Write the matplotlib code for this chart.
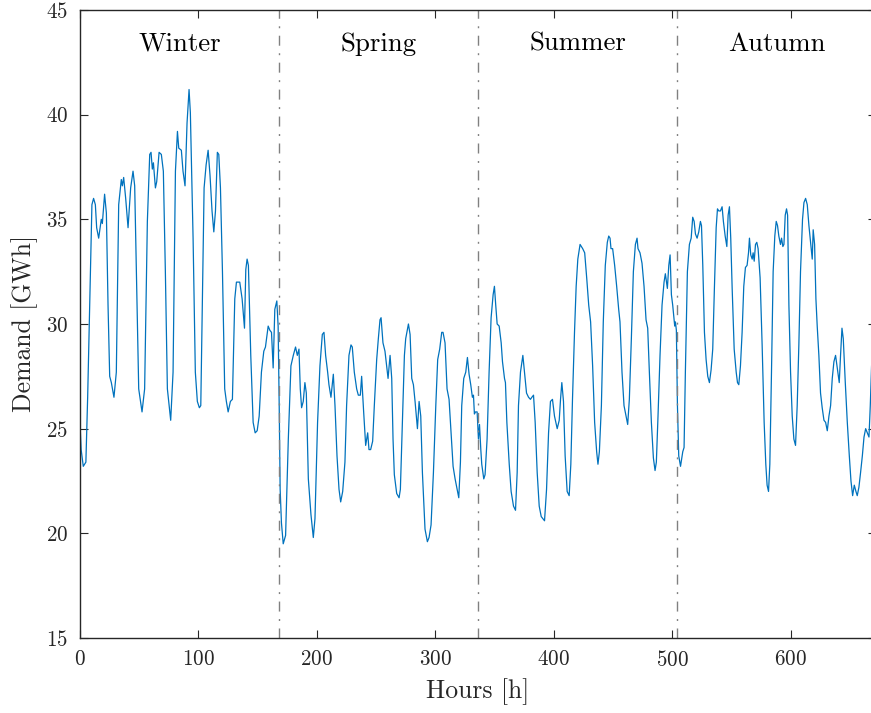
import matplotlib
matplotlib.use("Agg")
import matplotlib.pyplot as plt

# hourly demand (hours, GWh)
hours = [0, 1, 2.8, 5, 6.5, 8.2, 10.1, 11.5, 13, 14.1, 15.8, 18, 18.9, 20.8, 22.3, 23.7, 25.1, 26.5, 28.7, 30.7,
         32.7, 34.9, 35.8, 36.9, 38.6, 40.6, 42.8, 44.8, 46.2, 47.6, 49.6, 52.4, 54.6, 56.9, 58.9, 60, 61.1, 62,
         63.7, 64.8, 66.8, 68.7, 70.4, 72.1, 73.8, 76.6, 78.6, 80.6, 82.3, 83.4, 85.6, 87, 88.7, 90.4, 92.1, 93.2,
         95.5, 97.4, 99.1, 100.8, 102, 103.1, 104.8, 106.5, 108.2, 109.8, 111.5, 113, 114.4, 116, 117.2, 118.6,
         120.3, 122.2, 123.6, 125.1, 127, 128.7, 130.7, 132.1, 134.9, 136.9, 138.9, 140, 141.1, 142.2, 144.2,
         146.2, 147.9, 149.6, 151.3, 153.2, 155.2, 156.6, 158.9, 160.3, 161.7, 163.1, 164.5, 166.2, 167.3, 168.2,
         169, 170.1, 171.6, 173.6, 175.9, 178.1, 180.1, 182, 183.5, 184.9, 186, 187.1, 188.5, 189.9, 191.1, 192.8,
         195, 197, 198.4, 200.6, 202.6, 204.6, 206, 207.4, 209.1, 210.2, 211.9, 213.9, 215.3, 217, 218.7, 220.1,
         221.8, 223.7, 225.1, 227.1, 228.8, 229.9, 231.6, 233.6, 235, 236.7, 237.8, 239.5, 241.2, 242.9, 244,
         245.4, 247.1, 248.5, 250.5, 251.9, 253.3, 254.2, 255.8, 257.5, 258.9, 260.1, 261.8, 263.2, 264.3, 265.4,
         267.4, 269.4, 270.5, 272.2, 273.9, 275, 277.3, 278.7, 280.1, 281.5, 282.9, 284.9, 286.3, 287.7, 289.1,
         291.3, 293.3, 294.7, 296.4, 298.4, 300.4, 302, 303.7, 305.4, 306.5, 308.2, 309.9, 311.6, 313.3, 315,
         316.7, 318.4, 319.8, 321.2, 322.3, 324, 325.7, 327.1, 328.5, 329.9, 331.3, 332.2, 333, 333.9, 335.3,
         336.4, 337.3, 338.4, 339.2, 340.9, 342, 343.7, 345.4, 347.1, 348.8, 349.9, 351, 352.2, 353.9, 355.6,
         356.7, 358.4, 359.2, 360.4, 362.4, 364, 366, 367.7, 369.1, 370.2, 371.9, 373.9, 375.3, 377, 378.7,
         380.3, 381.5, 382.9, 384.3, 386, 387.7, 389.4, 390.8, 392.2, 393.9, 395.6, 397.2, 398.9, 400.6, 402.9,
         404.6, 405.7, 406.8, 408.2, 409.6, 411.3, 413, 414.4, 415.8, 417.5, 418.9, 420.3, 422.2, 424.4, 426.1,
         427.8, 429.5, 431.1, 432.8, 434.5, 436.2, 437.3, 438.5, 440.2, 441.8, 443.5, 445.2, 446.4, 447.5, 448.3,
         449.7, 451.4, 453.1, 454.8, 455.9, 457.6, 459.3, 461, 462.4, 463.8, 465.5, 467.2, 468.9, 470.3, 471.1,
         472.8, 474.5, 476.2, 477.9, 479.3, 480.7, 482.4, 484.1, 485.5, 486.6, 488, 489.7, 491.4, 493.1, 494.2,
         495.9, 497.1, 498.2, 499.3, 500.4, 502.1, 502.7, 503.5, 504.4, 505.5, 507, 508.9, 510, 511.1, 512.8,
         514.5, 516, 517.3, 518.5, 519.6, 521, 522.4, 523.8, 524.7, 525.8, 527.2, 528.6, 530, 531.4, 532.8,
         534.2, 535.6, 537.1, 538.2, 539.3, 540.7, 542.1, 543.2, 544.7, 546.1, 547.2, 548.3, 549.4, 550.6,
         552.3, 554, 555.1, 556.2, 557.6, 559, 560.4, 561.8, 563.2, 564.4, 565.2, 566.3, 567.5, 568.3, 569.2,
         570.3, 571.4, 572.5, 574.2, 575.9, 577.6, 579, 580.1, 581.3, 582.4, 583.8, 585.2, 586.6, 587.8, 588.9,
         590, 591.4, 592.3, 593.4, 594.3, 595.4, 596.5, 597.4, 598.5, 599.9, 601.3, 602.7, 604.1, 605.5, 606.9,
         608.3, 610, 611.2, 612.6, 614, 615.4, 616.8, 618.2, 619, 620.2, 621.3, 622.4, 623.8, 625.2, 626.6,
         628.1, 629.5, 630.9, 632.3, 633.7, 635.1, 636.5, 637.9, 639.3, 641, 642.1, 643.3, 644.4, 646.1, 647.8,
         649.5, 650.9, 652.3, 653.7, 655.1, 656.2, 657.6, 659, 660.5, 661.9, 663.3, 664.7, 666.1, 667.2, 668.3,
         669.5, 671]
demand = [25.3, 24.0, 23.2, 23.4, 26.5, 30.9, 35.7, 36.0, 35.7, 34.6, 34.1, 35.0, 34.8, 36.2, 35.3, 30.9, 27.5,
          27.2, 26.5, 27.7, 35.7, 36.9, 36.6, 37.0, 36.0, 34.6, 36.5, 37.3, 36.6, 32.5, 26.9, 25.8, 26.9, 34.9,
          38.1, 38.2, 37.4, 37.7, 36.5, 36.8, 38.2, 38.1, 37.3, 32.5, 26.9, 25.4, 27.7, 37.3, 39.2, 38.4, 38.3,
          37.3, 36.6, 39.6, 41.2, 40.1, 34.1, 27.7, 26.3, 26.0, 26.1, 30.1, 36.5, 37.6, 38.3, 37.1, 35.4, 34.4,
          35.4, 38.2, 38.1, 36.5, 32.5, 26.9, 26.3, 25.8, 26.3, 26.4, 31.2, 32.0, 32.0, 31.2, 29.8, 32.6, 33.1,
          32.8, 28.5, 25.3, 24.8, 24.9, 25.6, 27.7, 28.7, 28.9, 29.9, 29.7, 29.6, 27.9, 30.7, 31.1, 29.9, 26.1,
          22.1, 20.5, 19.5, 19.9, 24.5, 28.0, 28.5, 28.9, 28.5, 28.8, 26.9, 26.0, 26.3, 27.2, 26.7, 22.6, 20.9,
          19.8, 20.7, 25.3, 28.0, 29.5, 29.6, 28.5, 27.7, 27.1, 26.5, 27.6, 26.1, 23.7, 22.1, 21.5, 22.0, 23.4,
          26.1, 28.5, 29.0, 28.9, 27.7, 26.9, 26.6, 26.6, 27.5, 25.8, 24.2, 24.8, 24.0, 24.0, 24.4, 26.1, 28.3,
          29.3, 30.2, 30.3, 29.1, 28.7, 28.0, 27.4, 28.5, 27.4, 24.5, 22.8, 21.9, 21.7, 22.1, 25.3, 28.5, 29.3,
          30.0, 29.5, 27.4, 27.1, 26.3, 25.0, 26.3, 25.6, 22.9, 20.2, 19.6, 19.8, 20.4, 22.9, 26.1, 28.3, 28.8,
          29.6, 29.6, 29.1, 26.9, 26.4, 24.8, 23.2, 22.6, 22.1, 21.7, 23.4, 26.1, 27.4, 27.7, 28.4, 27.6, 27.1,
          26.5, 26.6, 25.7, 25.8, 25.8, 24.5, 25.2, 24.0, 23.3, 22.6, 22.8, 24.5, 27.7, 30.3, 31.4, 31.8, 30.9,
          30.0, 29.9, 29.1, 28.2, 27.4, 27.2, 25.3, 23.3, 22.0, 21.3, 21.1, 22.9, 26.1, 27.7, 28.5, 27.7, 26.7,
          26.5, 26.4, 26.5, 26.6, 25.3, 22.9, 21.3, 20.8, 20.7, 20.6, 22.1, 24.8, 26.3, 26.4, 25.6, 25.0, 25.4,
          26.4, 27.2, 26.3, 23.7, 22.0, 21.8, 23.3, 26.4, 29.6, 31.8, 33.1, 33.8, 33.6, 33.4, 32.2, 30.9, 30.1,
          28.0, 25.3, 23.9, 23.3, 23.9, 26.1, 30.1, 32.8, 33.9, 34.2, 34.1, 33.6, 33.6, 32.8, 31.8, 30.7, 30.1,
          27.7, 26.1, 25.6, 25.2, 26.4, 29.3, 32.5, 33.8, 34.1, 33.6, 33.4, 32.9, 31.8, 30.2, 29.8, 27.7, 25.3,
          23.6, 23.0, 23.4, 25.6, 28.5, 30.9, 32.0, 32.4, 31.7, 32.8, 33.3, 31.4, 30.9, 29.9, 30.1, 29.7, 26.1,
          23.7, 23.2, 23.9, 24.1, 27.7, 32.5, 33.8, 34.1, 35.1, 34.9, 34.3, 34.1, 34.4, 34.9, 34.7, 32.8, 29.6,
          28.3, 27.5, 27.2, 27.8, 28.8, 31.7, 34.6, 35.5, 35.4, 35.4, 35.6, 34.9, 34.2, 33.7, 35.2, 35.6, 34.1,
          31.7, 28.8, 27.7, 27.2, 27.1, 28.0, 29.6, 31.8, 32.7, 32.8, 33.4, 34.1, 33.3, 33.1, 33.4, 33.0, 33.8,
          33.9, 33.6, 32.2, 29.0, 25.3, 23.3, 22.3, 22.0, 23.3, 27.7, 32.5, 34.2, 34.9, 34.7, 34.2, 33.8, 34.1,
          33.7, 33.8, 35.2, 35.5, 35.2, 30.9, 27.7, 25.6, 24.5, 24.2, 26.1, 29.0, 32.5, 35.0, 35.8, 36.0, 35.7,
          34.7, 33.9, 33.1, 34.5, 33.8, 31.2, 29.9, 28.5, 26.7, 26.0, 25.4, 25.3, 24.9, 25.6, 26.1, 27.4, 28.2,
          28.5, 27.9, 27.2, 28.5, 29.8, 29.3, 27.2, 25.3, 23.7, 22.5, 21.8, 22.3, 22.0, 21.8, 22.2, 22.9, 23.7,
          24.6, 25.0, 24.8, 24.6, 26.1, 28.0, 29.0, 30.0]

seasons = ["Winter", "Spring", "Summer", "Autumn"]
week = 168

plt.rcParams["font.family"] = "cmr10"
plt.rcParams["axes.formatter.use_mathtext"] = True
ink = "#262626"

fig = plt.figure(figsize=(8.71, 7.13), dpi=100)
ax = fig.add_axes([0.0918, 0.1052, 0.9139, 0.8808])

ax.plot(hours, demand, color="#0072BD", lw=0.9)

# week boundaries
for k in range(1, 4):
    ax.axvline(k * week, color="#808080", lw=1.0, ls=(0, (7.2, 5.4, 1.4, 5.4)))

for k, name in enumerate(seasons):
    ax.text(k * week + week / 2, 43.05, name, ha="center", va="baseline",
            fontsize=19.3, color="black")

ax.set_xlim(0, 4 * week)
ax.set_ylim(15, 45)
ax.set_xticks(range(0, 700, 100))
ax.set_yticks(range(15, 50, 5))
ax.tick_params(direction="in", top=True, right=True, length=5.8, width=0.8,
               labelsize=15.2, colors=ink, pad=8.5)
for s in ax.spines.values():
    s.set_color(ink)
    s.set_linewidth(1.0)

ax.set_xlabel("Hours [h]", fontsize=18.5, color=ink, labelpad=6)
ax.set_ylabel("Demand [GWh]", fontsize=18.5, color=ink, labelpad=6)

fig.savefig("out.png", dpi=100)
